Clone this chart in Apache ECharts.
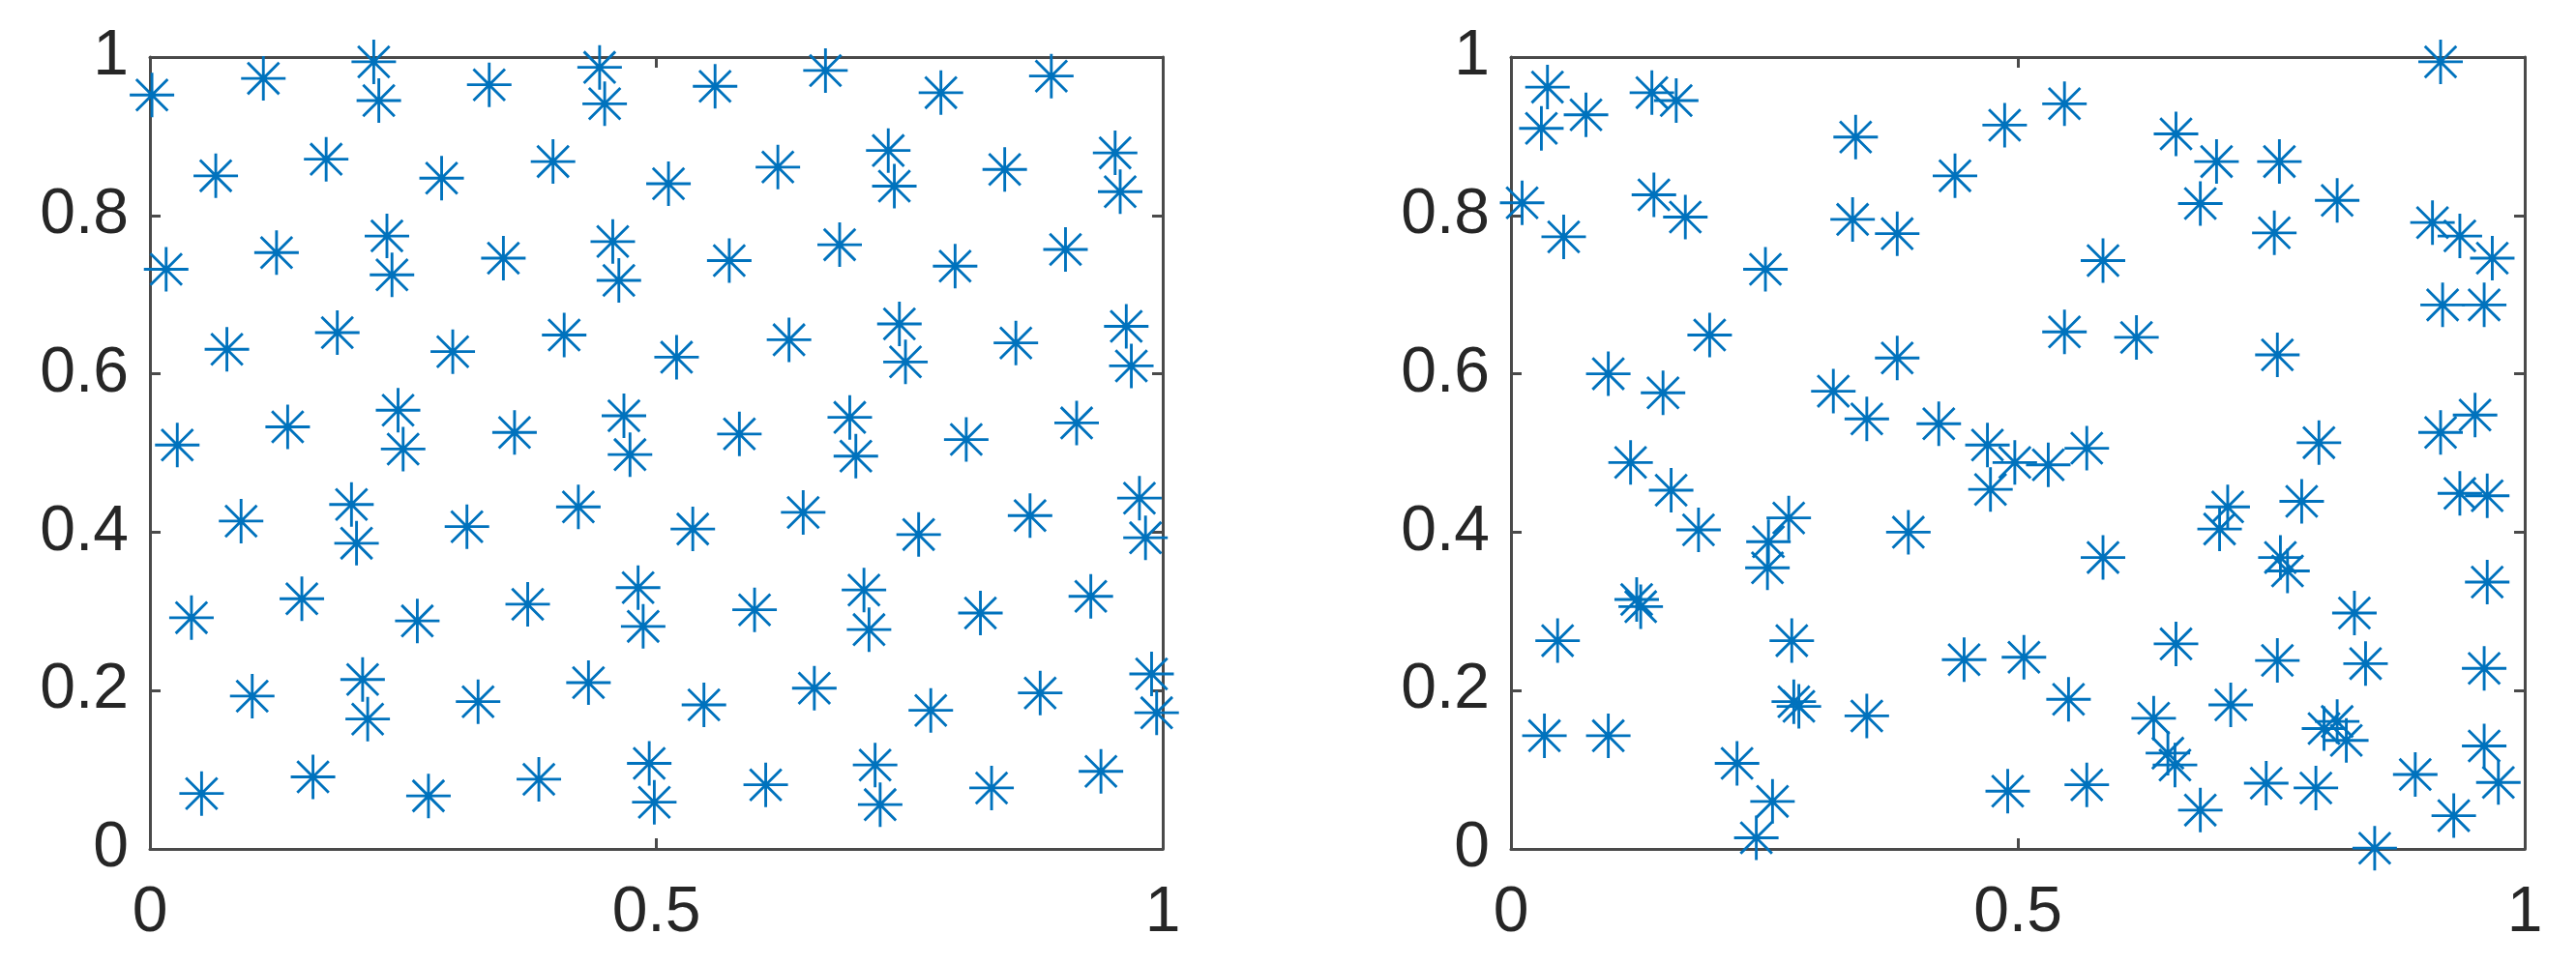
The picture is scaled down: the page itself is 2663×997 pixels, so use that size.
<!DOCTYPE html>
<html>
<head>
<meta charset="utf-8">
<script src="https://cdn.jsdelivr.net/npm/echarts@6/dist/echarts.min.js"></script>
<style>
  html, body { margin: 0; padding: 0; background: #fff; }
  #chart { width: 2663px; height: 997px; }
</style>
</head>
<body>
<div id="chart"></div>
<script>
// left panel: evenly spread (low discrepancy) points
var leftX = [0.002, 0.112, 0.221, 0.226, 0.335, 0.444, 0.449,
  0.065, 0.174, 0.288, 0.398, 0.512,
  0.016, 0.125, 0.234, 0.239, 0.349, 0.457, 0.463,
  0.076, 0.185, 0.299, 0.409, 0.520,
  0.027, 0.136, 0.245, 0.250, 0.360, 0.468, 0.474,
  0.558, 0.667, 0.781, 0.890,
  0.620, 0.729, 0.735, 0.844, 0.953, 0.958,
  0.572, 0.681, 0.795, 0.904,
  0.631, 0.740, 0.746, 0.855, 0.964, 0.969,
  0.582, 0.691, 0.697, 0.806, 0.915,
  0.090, 0.199, 0.204, 0.313, 0.423,
  0.041, 0.150, 0.264, 0.373, 0.482, 0.487,
  0.101, 0.210, 0.215, 0.324, 0.433,
  0.051, 0.161, 0.275, 0.384, 0.493, 0.498,
  0.536, 0.645, 0.759, 0.869, 0.977, 0.983,
  0.597, 0.705, 0.710, 0.820, 0.929,
  0.547, 0.656, 0.771, 0.879, 0.989, 0.994,
  0.608, 0.716, 0.721, 0.831, 0.939]
var leftY = [0.952, 0.973, 0.994, 0.945, 0.965, 0.987, 0.941,
  0.850, 0.871, 0.847, 0.868, 0.840,
  0.732, 0.753, 0.774, 0.725, 0.746, 0.767, 0.718,
  0.631, 0.652, 0.628, 0.649, 0.621,
  0.510, 0.533, 0.554, 0.505, 0.526, 0.547, 0.498,
  0.963, 0.983, 0.955, 0.976,
  0.861, 0.882, 0.837, 0.858, 0.879, 0.830,
  0.743, 0.763, 0.736, 0.757,
  0.643, 0.663, 0.615, 0.639, 0.660, 0.610,
  0.524, 0.545, 0.496, 0.517, 0.538,
  0.414, 0.435, 0.386, 0.407, 0.432,
  0.292, 0.316, 0.288, 0.309, 0.330, 0.281,
  0.193, 0.214, 0.164, 0.186, 0.210,
  0.070, 0.091, 0.067, 0.088, 0.108, 0.059,
  0.404, 0.425, 0.397, 0.421, 0.443, 0.393,
  0.302, 0.327, 0.277, 0.298, 0.319,
  0.182, 0.203, 0.175, 0.197, 0.221, 0.172,
  0.081, 0.106, 0.056, 0.077, 0.098]

// right panel: irregular points
var rightX = [0.036, 0.030, 0.074, 0.139, 0.163,
  0.011, 0.052, 0.141, 0.172,
  0.340, 0.251, 0.337, 0.381, 0.438, 0.487,
  0.196, 0.096, 0.150, 0.318, 0.351, 0.381, 0.422, 0.470, 0.497, 0.118,
  0.917, 0.546, 0.656, 0.696, 0.758, 0.680, 0.815, 0.753, 0.909, 0.936, 0.968,
  0.919, 0.960, 0.584, 0.546, 0.617, 0.756,
  0.917, 0.951, 0.797, 0.530, 0.568,
  0.158, 0.185, 0.473, 0.392, 0.274, 0.254, 0.253,
  0.124, 0.128,
  0.046, 0.277, 0.447, 0.506,
  0.279, 0.284,
  0.351, 0.033, 0.096, 0.223, 0.258, 0.242, 0.490,
  0.936, 0.963, 0.707, 0.699, 0.780, 0.584, 0.759, 0.766, 0.963, 0.832,
  0.656, 0.756, 0.843, 0.960, 0.550, 0.634, 0.710, 0.648, 0.655, 0.802, 0.815, 0.824, 0.960, 0.974,
  0.568, 0.680, 0.745, 0.794, 0.892, 0.930, 0.852]
var rightY = [0.962, 0.910, 0.927, 0.955, 0.945,
  0.816, 0.773, 0.826, 0.798,
  0.899, 0.732, 0.795, 0.777, 0.850, 0.914,
  0.649, 0.600, 0.576, 0.578, 0.543, 0.620, 0.537, 0.510, 0.488, 0.488,
  0.994, 0.941, 0.903, 0.868, 0.868, 0.815, 0.819, 0.778, 0.791, 0.774, 0.746,
  0.687, 0.687, 0.743, 0.653, 0.646, 0.624,
  0.526, 0.548, 0.513, 0.485, 0.506,
  0.453, 0.403, 0.454, 0.400, 0.418, 0.388, 0.355,
  0.315, 0.306,
  0.263, 0.263, 0.239, 0.242,
  0.186, 0.180,
  0.168, 0.143, 0.143, 0.108, 0.060, 0.014, 0.073,
  0.449, 0.446, 0.432, 0.404, 0.439, 0.368, 0.368, 0.351, 0.337, 0.298,
  0.259, 0.238, 0.234, 0.228, 0.189, 0.165, 0.182, 0.121, 0.106, 0.152, 0.161, 0.137, 0.130, 0.084,
  0.081, 0.049, 0.083, 0.077, 0.094, 0.042, 0.001]

var xTickLabels = ['0', '0.5', '1']
var yTickLabels = ['0', '0.2', '0.4', '0.6', '0.8', '1']

var blue = '#0072BD'
var axisColor = '#4a4a4a'
var textColor = '#262626'
var font = '"Liberation Sans", Arial, Helvetica, sans-serif'

// matlab style '*' marker
var star = 'path://M1.5,-24L1.5,24L-1.5,24L-1.5,-24Z' +
  'M-24,-1.5L24,-1.5L24,1.5L-24,1.5Z' +
  'M-15.91,-18.03L18.03,15.91L15.91,18.03L-18.03,-15.91Z' +
  'M-18.03,15.91L15.91,-18.03L18.03,-15.91L-15.91,18.03Z'

function pairs(xs, ys) {
  return xs.map(function (x, i) { return [x, ys[i]] })
}

function xAxes(gridIndex) {
  var base = {
    type: 'value', gridIndex: gridIndex, min: 0, max: 1, interval: 0.5,
    axisLine: { show: true, onZero: false, lineStyle: { color: axisColor, width: 3 } },
    axisTick: { show: true, inside: true, length: 11, lineStyle: { color: axisColor, width: 3 } },
    splitLine: { show: false }
  }
  var bottom = Object.assign({}, base, {
    position: 'bottom',
    axisLabel: {
      show: true, margin: 34, color: textColor, fontSize: 66, fontFamily: font,
      formatter: function (v, i) { return xTickLabels[i] }
    }
  })
  var top = Object.assign({}, base, { position: 'top', axisLabel: { show: false } })
  return [bottom, top]
}

function yAxes(gridIndex) {
  var base = {
    type: 'value', gridIndex: gridIndex, min: 0, max: 1, interval: 0.2,
    axisLine: { show: true, onZero: false, lineStyle: { color: axisColor, width: 3 } },
    axisTick: { show: true, inside: true, length: 11, lineStyle: { color: axisColor, width: 3 } },
    splitLine: { show: false }
  }
  var left = Object.assign({}, base, {
    position: 'left',
    axisLabel: {
      show: true, margin: 22, color: textColor, fontSize: 66, fontFamily: font,
      formatter: function (v, i) { return yTickLabels[i] }
    }
  })
  var right = Object.assign({}, base, { position: 'right', axisLabel: { show: false } })
  return [left, right]
}

function scatter(data, axisIndex) {
  return {
    type: 'scatter',
    xAxisIndex: axisIndex,
    yAxisIndex: axisIndex,
    data: data,
    symbol: star,
    symbolSize: 46,
    symbolKeepAspect: true,
    clip: false,
    itemStyle: { color: blue, opacity: 1 },
    emphasis: { disabled: true }
  }
}

var chart = echarts.init(document.getElementById('chart'), null, { renderer: 'canvas' })
chart.setOption({
  animation: false,
  backgroundColor: '#ffffff',
  grid: [
    { left: 155, top: 59, width: 1047, height: 819 },
    { left: 1562, top: 59, width: 1048, height: 819 }
  ],
  xAxis: xAxes(0).concat(xAxes(1)),
  yAxis: yAxes(0).concat(yAxes(1)),
  series: [
    scatter(pairs(leftX, leftY), 0),
    scatter(pairs(rightX, rightY), 2)
  ]
})
</script>
</body>
</html>
